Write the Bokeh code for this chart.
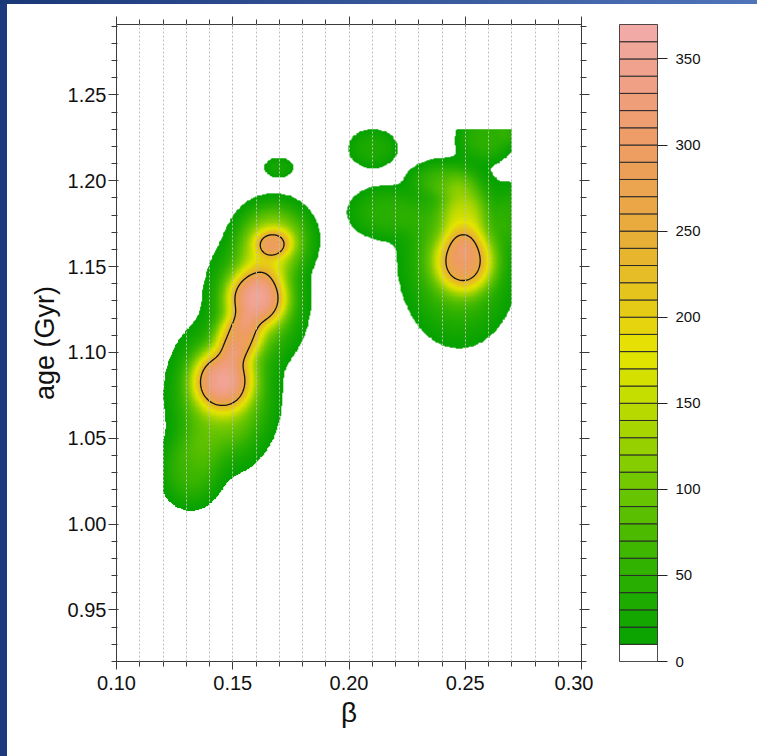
import numpy as np
from bokeh.plotting import figure
from bokeh.models import (LinearAxis, FixedTicker, SingleIntervalTicker, PrintfTickFormatter,
                          LinearColorMapper, Range1d, Div)
from bokeh.layouts import row, column
from bokeh.embed import file_html
from bokeh.resources import INLINE

# ---- density field components (beta, age, peak height, widths) ----
comp_beta = [0.14559, 0.16022, 0.15247, 0.16753, 0.14559, 0.16022, 0.16753, 0.13183, 0.16968,
             0.24925, 0.24925, 0.24710, 0.25871, 0.23936, 0.26946, 0.21570, 0.21011, 0.27032]
comp_age = [1.08363, 1.13149, 1.10814, 1.16360, 1.07487, 1.13033, 1.16535, 1.03225, 1.20738,
            1.15251, 1.17995, 1.15660, 1.22490, 1.20038, 1.22840, 1.18111, 1.21848, 1.17995]
comp_amp = [230, 230, 170, 130, 120, 120, 130, 60, 25,
            205, 80, 90, 50, 45, 25, 45, 35, 30]
comp_sbeta = [0.01247, 0.01204, 0.00946, 0.00774, 0.01892, 0.01720, 0.01462, 0.01204, 0.00645,
              0.01204, 0.00946, 0.02065, 0.01118, 0.01290, 0.00516, 0.01462, 0.00989, 0.00688]
comp_sage = [0.01751, 0.01635, 0.01284, 0.00817, 0.03503, 0.03211, 0.01985, 0.02043, 0.00584,
             0.01751, 0.02043, 0.04203, 0.01284, 0.00934, 0.00700, 0.01401, 0.01051, 0.01635]

beta_domain = [0.12, 0.27]
age_domain = [1.00, 1.23]

x_range_vals = [0.10, 0.30]
y_range_vals = [0.92, 1.291]
x_major = [0.10, 0.15, 0.20, 0.25, 0.30]
x_minor = [round(0.10 + 0.01 * i, 2) for i in range(21)]
y_major = [0.95, 1.00, 1.05, 1.10, 1.15, 1.20, 1.25]
y_minor = [round(0.92 + 0.01 * i, 2) for i in range(38)]
cbar_ticks = [0, 50, 100, 150, 200, 250, 300, 350]
cbar_levels = list(range(0, 380, 10))
line_levels = [250]

anchor_vals = [10, 50, 100, 150, 180, 200, 250, 300, 340, 370]
anchor_cols = ["#06a200", "#2cb000", "#6cc600", "#c0db00", "#e6e500", "#e5cf12",
               "#e8ab3a", "#ee9c64", "#f0a088", "#f2acac"]


def hex2rgb(h):
    h = h.lstrip("#")
    return [int(h[i:i + 2], 16) for i in (0, 2, 4)]


def color_at(v):
    v = min(max(v, anchor_vals[0]), anchor_vals[-1])
    for i in range(len(anchor_vals) - 1):
        if anchor_vals[i] <= v <= anchor_vals[i + 1]:
            t = (v - anchor_vals[i]) / (anchor_vals[i + 1] - anchor_vals[i])
            a, b = hex2rgb(anchor_cols[i]), hex2rgb(anchor_cols[i + 1])
            c = [round(a[k] + (b[k] - a[k]) * t) for k in range(3)]
            return "#%02x%02x%02x" % tuple(c)
    return anchor_cols[-1]


palette = [color_at(10 + 360 * i / 255) for i in range(256)]

bx = np.linspace(beta_domain[0], beta_domain[1], 451)
ay = np.linspace(age_domain[0], age_domain[1], 481)
X, Y = np.meshgrid(bx, ay)
Z = np.zeros_like(X)
for b, a, h, sb, sa in zip(comp_beta, comp_age, comp_amp, comp_sbeta, comp_sage):
    q = ((X - b) / sb) ** 2 + ((Y - a) / sa) ** 2
    Z += h * np.exp(-q ** 1.5)
Zimg = np.where(Z >= 10, Z, np.nan)

FONT = "Liberation Sans"
AX = "#3a3a3a"

p = figure(width=586, height=752,
           x_range=Range1d(*x_range_vals), y_range=Range1d(*y_range_vals),
           output_backend="svg", toolbar_location=None,
           min_border_left=109, min_border_right=12, min_border_top=20, min_border_bottom=95,
           x_axis_label="β", y_axis_label="age (Gyr)",
           outline_line_color=None, background_fill_color="white", border_fill_color="white")

mapper = LinearColorMapper(palette=palette, low=10, high=370, nan_color="rgba(0,0,0,0)")
p.image(image=[Zimg], x=beta_domain[0], y=age_domain[0],
        dw=beta_domain[1] - beta_domain[0], dh=age_domain[1] - age_domain[0],
        color_mapper=mapper)
p.contour(x=bx, y=ay, z=Z, levels=line_levels, line_color="#111111", line_width=1.3)

p.add_layout(LinearAxis(), "above")
p.add_layout(LinearAxis(), "right")

for ax in p.xaxis:
    ax.ticker = FixedTicker(ticks=x_major, minor_ticks=x_minor)
for ax in p.yaxis:
    ax.ticker = FixedTicker(ticks=y_major, minor_ticks=y_minor)
for ax in p.axis:
    ax.formatter = PrintfTickFormatter(format="%.2f")
    ax.axis_line_color = AX
    ax.major_tick_line_color = AX
    ax.minor_tick_line_color = AX
    ax.major_tick_out = 8
    ax.major_tick_in = 2
    ax.minor_tick_out = 5
    ax.minor_tick_in = 1
    ax.major_label_text_font = FONT
    ax.major_label_text_font_size = "20px"
    ax.major_label_text_color = "#111111"
    ax.axis_label_text_font = FONT
    ax.axis_label_text_font_style = "normal"
    ax.axis_label_text_color = "#111111"

for ax in (p.above[0], p.right[0]):
    ax.major_label_text_font_size = "1px"
    ax.major_label_text_color = None
    ax.major_label_standoff = 0

p.below[0].axis_label_text_font_size = "28px"
p.below[0].axis_label_standoff = 4
p.below[0].major_label_standoff = 6
p.left[0].axis_label_text_font_size = "27px"
p.left[0].axis_label_standoff = 5
p.left[0].major_label_standoff = 2

p.ygrid.visible = False
p.xgrid.ticker = SingleIntervalTicker(interval=0.01)
p.xgrid.grid_line_color = "#bdbdbd"
p.xgrid.grid_line_dash = "2 2"
p.xgrid.grid_line_width = 1
p.xgrid.level = "annotation"

# ---- colour bar ----
band_bottom = cbar_levels[:-1]
band_top = cbar_levels[1:]
band_colors = ["#ffffff"] + [color_at(v + 5) for v in band_bottom[1:]]

cb = figure(width=164, height=752, x_range=Range1d(0, 1), y_range=Range1d(0, 370),
            output_backend="svg", toolbar_location=None,
            x_axis_location=None, y_axis_location="right",
            min_border_left=26, min_border_right=100, min_border_top=20, min_border_bottom=95,
            outline_line_color="#444444", background_fill_color="white", border_fill_color="white")
cb.quad(left=0, right=1, bottom=band_bottom, top=band_top, fill_color=band_colors,
        line_color="#2a2a2a", line_width=1)
cb.grid.visible = False
yax = cb.yaxis[0]
yax.ticker = FixedTicker(ticks=cbar_ticks)
yax.axis_line_color = None
yax.major_tick_line_color = "#222222"
yax.major_tick_out = 10
yax.major_tick_in = 0
yax.minor_tick_line_color = None
yax.major_label_text_font = FONT
yax.major_label_text_font_size = "15px"
yax.major_label_text_color = "#111111"
yax.major_label_standoff = 8

top_strip = Div(text="", width=757, height=4, margin=0,
                styles={"background": "linear-gradient(90deg, #1a3878, #4f74b8)"})
left_strip = Div(text="", width=7, height=752, margin=0,
                 styles={"background": "#1c3b7e"})

layout = column(top_strip, row(left_strip, p, cb, spacing=0), spacing=0)

open("out.html", "w").write(file_html(layout, INLINE))
